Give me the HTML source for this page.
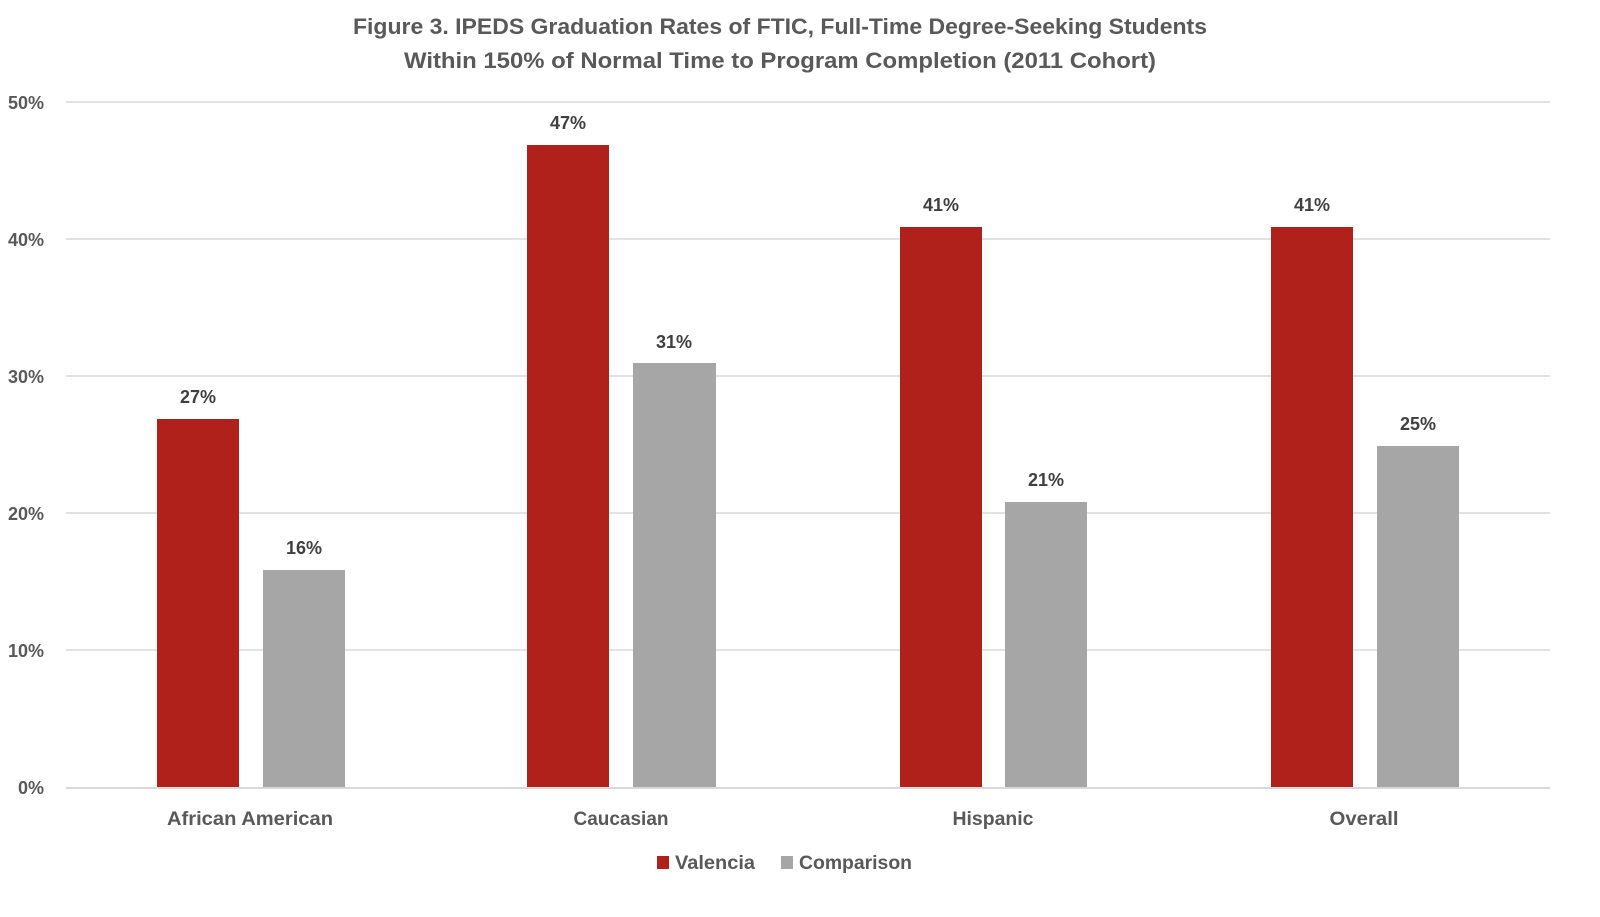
<!DOCTYPE html>
<html><head><meta charset="utf-8"><style>
html,body{margin:0;padding:0;background:#fff;}
svg text{font-family:"Liberation Sans",sans-serif;font-weight:bold;}
</style></head><body>
<svg width="1600" height="912" viewBox="0 0 1600 912" xmlns="http://www.w3.org/2000/svg">
<rect width="1600" height="912" fill="#fff"/>
<text x="780" y="34" text-anchor="middle" font-size="22" fill="#595959" textLength="854" lengthAdjust="spacingAndGlyphs">Figure 3. IPEDS Graduation Rates of FTIC, Full-Time Degree-Seeking Students</text>
<text x="780" y="68" text-anchor="middle" font-size="22" fill="#595959" textLength="752" lengthAdjust="spacingAndGlyphs">Within 150% of Normal Time to Program Completion (2011 Cohort)</text>
<g stroke="#d9d9d9" stroke-width="1.5">
<line x1="66" x2="1550" y1="102" y2="102"/><line x1="66" x2="1550" y1="239" y2="239"/>
<line x1="66" x2="1550" y1="376" y2="376"/><line x1="66" x2="1550" y1="513" y2="513"/>
<line x1="66" x2="1550" y1="650" y2="650"/>
</g>
<g font-size="18" fill="#595959" text-anchor="end">
<text x="44" y="109">50%</text><text x="44" y="246">40%</text><text x="44" y="383">30%</text>
<text x="44" y="520">20%</text><text x="44" y="657">10%</text><text x="44" y="794">0%</text>
</g>
<g fill="#b0211b">
<rect x="157" y="419" width="82" height="368"/><rect x="527" y="145" width="82" height="642"/>
<rect x="900" y="227" width="82" height="560"/><rect x="1271" y="227" width="82" height="560"/>
</g>
<g fill="#a6a6a6">
<rect x="263" y="570" width="82" height="217"/><rect x="633" y="363" width="83" height="424"/>
<rect x="1005" y="502" width="82" height="285"/><rect x="1377" y="446" width="82" height="341"/>
</g>
<line x1="66" x2="1550" y1="788" y2="788" stroke="#d9d9d9" stroke-width="2"/>
<g font-size="18" fill="#404040" text-anchor="middle">
<text x="198" y="403">27%</text><text x="304" y="554">16%</text>
<text x="568" y="129">47%</text><text x="674" y="348">31%</text>
<text x="941" y="211">41%</text><text x="1046" y="486">21%</text>
<text x="1312" y="211">41%</text><text x="1418" y="430">25%</text>
</g>
<g font-size="19" fill="#595959" text-anchor="middle">
<text x="250" y="825" textLength="166" lengthAdjust="spacingAndGlyphs">African American</text>
<text x="621" y="825" textLength="95" lengthAdjust="spacingAndGlyphs">Caucasian</text>
<text x="993" y="825" textLength="81" lengthAdjust="spacingAndGlyphs">Hispanic</text>
<text x="1364" y="825" textLength="69" lengthAdjust="spacingAndGlyphs">Overall</text>
</g>
<rect x="657" y="856" width="12" height="13" fill="#b0211b"/>
<text x="675" y="869" font-size="19" fill="#595959" textLength="80" lengthAdjust="spacingAndGlyphs">Valencia</text>
<rect x="781" y="856" width="12" height="13" fill="#a6a6a6"/>
<text x="799" y="869" font-size="19" fill="#595959" textLength="113" lengthAdjust="spacingAndGlyphs">Comparison</text>
</svg>
</body></html>
